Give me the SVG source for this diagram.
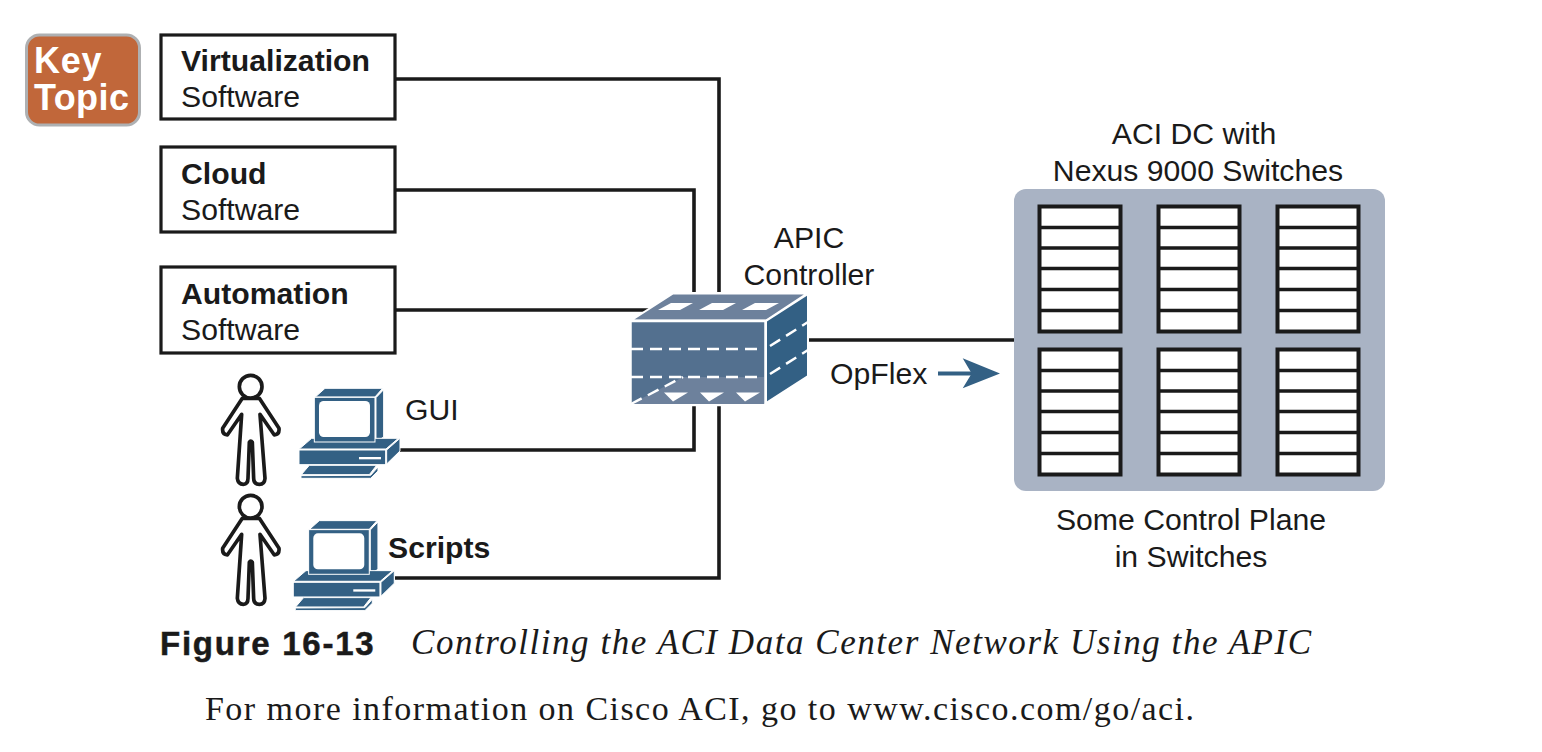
<svg xmlns="http://www.w3.org/2000/svg" xmlns:xlink="http://www.w3.org/1999/xlink" width="1542" height="752" viewBox="0 0 1542 752">
<style>
text{font-family:"Liberation Sans",Arial,sans-serif;font-size:30.2px;fill:#1a1a1a}
.b{font-weight:bold}
.box{fill:#fff;stroke:#1a1a1a;stroke-width:3.2}
.wire{fill:none;stroke:#1a1a1a;stroke-width:3.6}
.c{text-anchor:middle}
.blue{fill:#336084;stroke:#fff;stroke-width:3}
.person{fill:#fff;stroke:#1a1a1a;stroke-width:11;stroke-linejoin:round}
.sw{fill:#fff;stroke:#1a1a1a;stroke-width:4}
.dash{stroke:#fff;stroke-width:2.5;stroke-dasharray:12 7;fill:none}
</style>
<defs>
<g id="stack">
<rect class="sw" x="0" y="0" width="81" height="125"/>
<path d="M0 21H81M0 41.500H81M0 62H81M0 83H81M0 104H81" fill="none" stroke="#1a1a1a" stroke-width="3.6"/>
</g>
<g id="personShape" transform="scale(.3333)">
<path class="person" d="M97 100 L38 190 Q36 208 52 210 L95 148 L82 340 Q84 358 100 358 Q114 358 114 340 L118 232 Q122 224 127 232 L131 340 Q131 358 148 358 Q164 358 165 340 L150 148 L193 210 Q209 208 207 190 L148 100 Z"/>
<circle class="person" cx="122" cy="65" r="34"/>
</g>
<g id="pc" transform="scale(.3333)">
<path class="blue" d="M345 70H518L495 96H316Z"/>
<path class="blue" d="M498 98L521 74V216L498 231Z"/>
<path class="blue" d="M305 220H565L528 252H268Z"/>
<path class="blue" d="M530 255L570 220V258L530 297Z"/>
<rect class="blue" x="267" y="255" width="260" height="44"/>
<rect class="blue" x="313" y="97" width="182" height="134"/>
<rect x="327" y="108" width="153" height="108" rx="14" fill="#fff"/>
<rect x="447" y="276" width="66" height="7" fill="#fff"/>
<path class="blue" d="M298 301H500L478 329H274Z"/>
<path class="blue" d="M482 331L504 306V318L482 340H273V332Z"/>
</g>
</defs>
<rect width="1542" height="752" fill="#fff"/>
<g id="connectors">
<path class="wire" d="M395 79H719V292M395 190H694V292M395 310H660M400 450H694V405M395 578H719V405M808 340H1014"/>
<path d="M938 371.500H974V375.500H938Z" fill="#336084"/>
<path d="M962.700 358.300L1000 373.500L962.700 388.300L971.700 373.500Z" fill="#336084"/>
</g>
<g id="key-topic">
<rect x="26.500" y="35" width="113" height="90" rx="13" fill="#c1673a" stroke="#aeb0b2" stroke-width="3"/>
<text x="34" y="73" class="b" style="font-size:36px;fill:#fff;letter-spacing:.8px">Key</text>
<text x="34" y="110" class="b" style="font-size:36px;fill:#fff;letter-spacing:.4px">Topic</text>
</g>
<g id="virtualization">
<rect class="box" x="161" y="35" width="234" height="84"/>
<text x="181" y="71" class="b">Virtualization</text>
<text x="181" y="107">Software</text>
</g>
<g id="cloud">
<rect class="box" x="161" y="147" width="234" height="85"/>
<text x="181" y="184" class="b">Cloud</text>
<text x="181" y="220">Software</text>
</g>
<g id="automation">
<rect class="box" x="161" y="267" width="234" height="86"/>
<text x="181" y="304" class="b">Automation</text>
<text x="181" y="340">Software</text>
</g>
<g id="gui">
<use href="#personShape" xlink:href="#personShape" transform="translate(210,365)"/>
<use href="#pc" xlink:href="#pc" transform="translate(210,365)"/>
<text x="405" y="420">GUI</text>
</g>
<g id="scripts">
<use href="#personShape" xlink:href="#personShape" transform="translate(210,485)"/>
<use href="#pc" xlink:href="#pc" transform="translate(204.300,497.300)"/>
<text x="388" y="558" class="b">Scripts</text>
</g>
<g id="apic">
<path d="M673 293.500H807L766 320.500H631Z" fill="#6d819c" stroke="#fff" stroke-width="2"/>
<path d="M766 321L808 294V376L766 403Z" fill="#336084" stroke="#fff" stroke-width="2"/>
<path d="M630.500 321H765.500V405H630.500Z" fill="#53708f" stroke="#fff" stroke-width="2.500"/>
<path d="M631 404L683 377H764V404Z" fill="#6d819c"/>
<path d="M658 310L671 303H693L680 310ZM699 310L712 303H736L723 310ZM742 310L755 303H779L766 310Z" fill="#fff"/>
<path d="M664 392.500H688L673 401.500ZM700 392.500H724L709 401.500ZM736 392.500H760L745 401.500Z" fill="#fff"/>
<path class="dash" d="M631 349H764M631 377H764M770 346L808 322M770 374L808 350M631 404L683 377"/>
<text x="809" y="248" class="c">APIC</text>
<text x="809" y="285" class="c">Controller</text>
</g>
<text x="830" y="384">OpFlex</text>
<g id="aci-dc">
<text x="1194" y="144" class="c">ACI DC with</text>
<text x="1198" y="181" class="c">Nexus 9000 Switches</text>
<rect x="1014" y="189" width="371" height="302" rx="12" fill="#a9b3c4"/>
<use href="#stack" xlink:href="#stack" x="1039.500" y="206.500"/>
<use href="#stack" xlink:href="#stack" x="1158.500" y="206.500"/>
<use href="#stack" xlink:href="#stack" x="1277.500" y="206.500"/>
<use href="#stack" xlink:href="#stack" x="1039.500" y="349.500"/>
<use href="#stack" xlink:href="#stack" x="1158.500" y="349.500"/>
<use href="#stack" xlink:href="#stack" x="1277.500" y="349.500"/>
<text x="1191" y="530" class="c">Some Control Plane</text>
<text x="1191" y="567" class="c">in Switches</text>
</g>
<g id="caption">
<text x="160" y="655" class="b" style="font-size:33px;letter-spacing:1.75px;stroke:#1a1a1a;stroke-width:.5">Figure 16-13</text>
<text x="411" y="654" style="font-family:'Liberation Serif',serif;font-style:italic;font-size:35px;letter-spacing:1.55px">Controlling the ACI Data Center Network Using the APIC</text>
<text x="205" y="720" style="font-family:'Liberation Serif',serif;font-size:34px;letter-spacing:1.45px">For more information on Cisco ACI, go to www.cisco.com/go/aci.</text>
</g>
</svg>
